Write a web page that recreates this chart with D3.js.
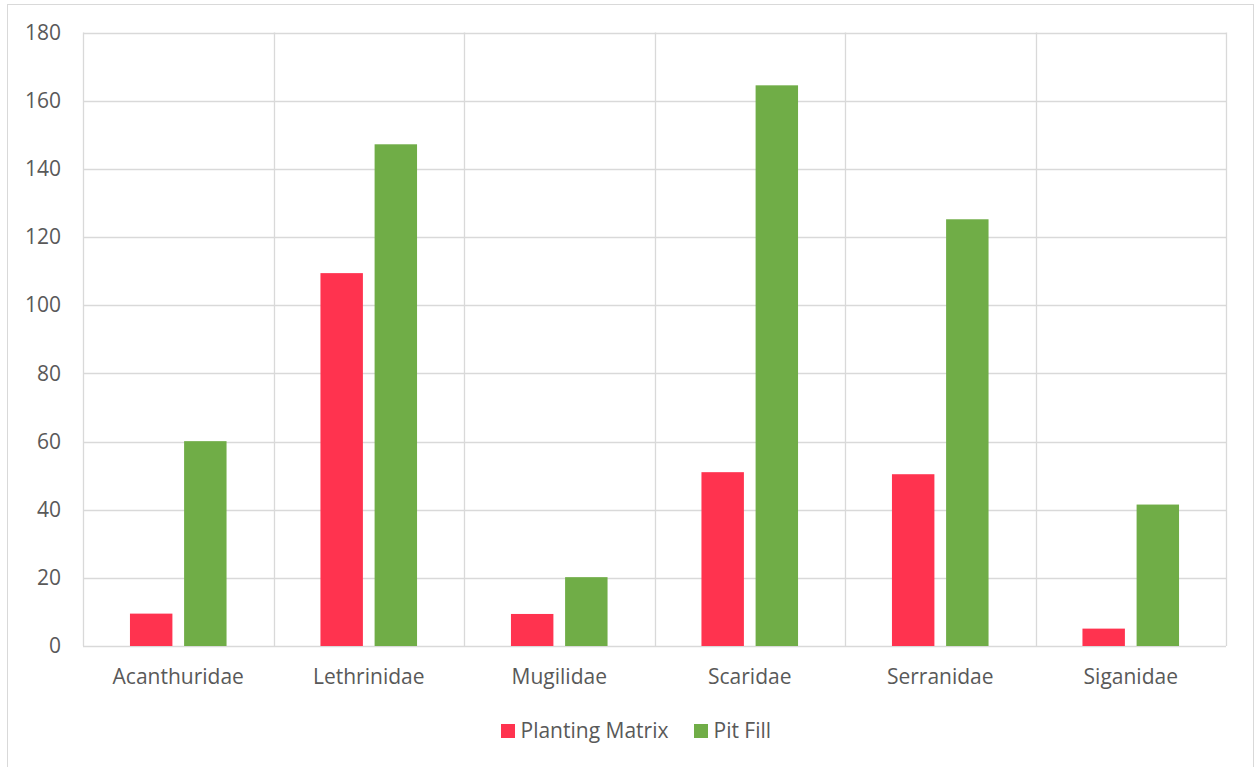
<!DOCTYPE html>
<html>
<head>
<meta charset="utf-8">
<script src="https://cdn.jsdelivr.net/npm/d3@7"></script>
<style>
  html, body { margin: 0; padding: 0; background: #fff; }
  svg { display: block; }
  text { font-family: "Open Sans", "Noto Sans", sans-serif; fill: #595959; }
</style>
</head>
<body>
<svg id="chart" width="1255" height="767"></svg>
<script>
// Fish family counts by treatment
const families = ["Acanthuridae", "Lethrinidae", "Mugilidae", "Scaridae", "Serranidae", "Siganidae"];
const plantingMatrix = [9.5, 109.4, 9.4, 51.0, 50.4, 5.1];
const pitFill = [60.1, 147.2, 20.2, 164.5, 125.2, 41.5];
const seriesNames = ["Planting Matrix", "Pit Fill"];
const seriesColors = ["#FF334F", "#70AD47"];
const yTicks = [0, 20, 40, 60, 80, 100, 120, 140, 160, 180];

const svg = d3.select("#chart");
const plot = { left: 83, right: 1226, top: 32.5, bottom: 646 };
const FONT = "21px";

// outer chart frame
svg.append("rect")
  .attr("x", 7.5).attr("y", 4.5)
  .attr("width", 1246).attr("height", 800)
  .attr("fill", "#fff").attr("stroke", "#D9D9D9").attr("stroke-width", 1);

const x = d3.scaleBand().domain(families).range([plot.left, plot.right]).padding(0);
const y = d3.scaleLinear().domain([0, 180]).range([plot.bottom, plot.top]);

// inner band for the two bars in each category (centred, ~51% of the category)
const clusterW = x.bandwidth() * 0.507;
const clusterX0 = (x.bandwidth() - clusterW) / 2;
const inner = d3.scaleBand().domain(seriesNames)
  .range([clusterX0, clusterX0 + clusterW]).paddingInner(0.216).paddingOuter(0);

// horizontal gridlines
svg.append("g").selectAll("line").data(yTicks).join("line")
  .attr("x1", plot.left).attr("x2", plot.right)
  .attr("y1", d => Math.round(y(d)) + 0.5).attr("y2", d => Math.round(y(d)) + 0.5)
  .attr("stroke", "#D9D9D9").attr("stroke-width", 1.3);

// vertical category separators
const seps = families.map(f => x(f)).concat([plot.right]);
svg.append("g").selectAll("line").data(seps).join("line")
  .attr("x1", d => Math.round(d) + 0.5).attr("x2", d => Math.round(d) + 0.5)
  .attr("y1", plot.top).attr("y2", plot.bottom)
  .attr("stroke", "#D9D9D9").attr("stroke-width", 1.3);

// bars
const rows = families.map((f, i) => ({ f, vals: [plantingMatrix[i], pitFill[i]] }));
const groups = svg.append("g").selectAll("g").data(rows).join("g")
  .attr("transform", d => `translate(${x(d.f)},0)`);
groups.selectAll("rect").data(d => d.vals.map((v, j) => ({ v, j }))).join("rect")
  .attr("x", d => inner(seriesNames[d.j]))
  .attr("width", inner.bandwidth())
  .attr("y", d => y(d.v))
  .attr("height", d => y(0) - y(d.v))
  .attr("fill", d => seriesColors[d.j]);

// y axis labels
const yAxis = d3.axisLeft(y).tickValues(yTicks).tickSize(0).tickPadding(0);
const gy = svg.append("g").attr("transform", `translate(${plot.left - 22},0)`).call(yAxis);
gy.select(".domain").remove();
gy.selectAll("text").style("font-size", FONT).attr("fill", "#595959")
  .attr("font-family", null);

// x axis labels
const xAxis = d3.axisBottom(x).tickSize(0).tickPadding(0);
const gx = svg.append("g").attr("transform", `translate(0,${plot.bottom + 23})`).call(xAxis);
gx.select(".domain").remove();
gx.selectAll("text").style("font-size", FONT).attr("fill", "#595959")
  .attr("font-family", null);

// legend
const legend = svg.append("g").attr("transform", "translate(501,724)");
const legendX = [0, 193];
seriesNames.forEach((name, i) => {
  const g = legend.append("g").attr("transform", `translate(${legendX[i]},0)`);
  g.append("rect").attr("width", 14).attr("height", 14).attr("fill", seriesColors[i]);
  g.append("text").attr("x", 19.5).attr("y", 13.5).style("font-size", FONT).text(name);
});
</script>
</body>
</html>
